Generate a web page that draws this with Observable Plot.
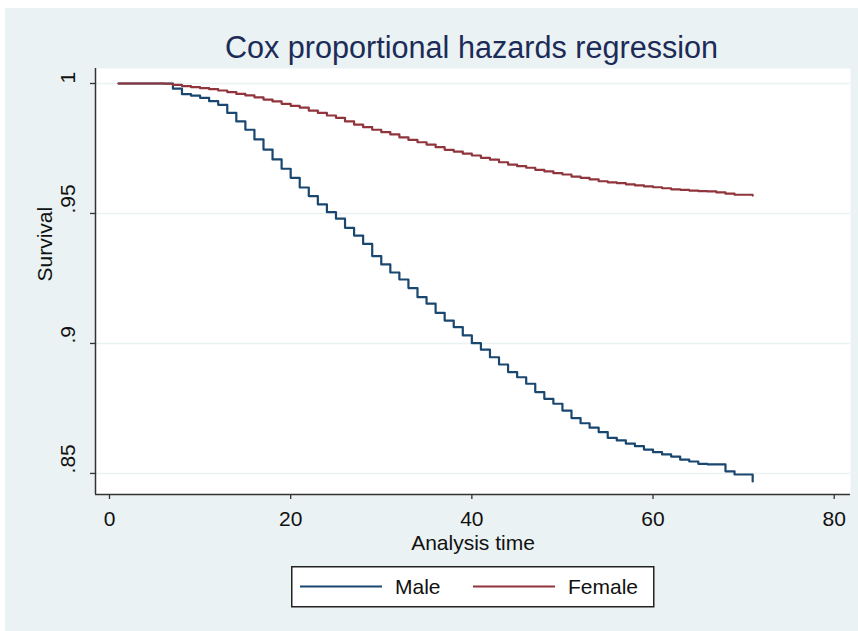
<!DOCTYPE html>
<html>
<head>
<meta charset="utf-8">
<script src="https://cdn.jsdelivr.net/npm/d3@7"></script>
<script src="https://cdn.jsdelivr.net/npm/@observablehq/plot@0.6"></script>
<style>
  html, body { margin: 0; padding: 0; background: #ffffff; }
  body { width: 858px; height: 631px; position: relative; overflow: hidden;
         font-family: "Liberation Sans", Arial, Helvetica, sans-serif; }
  #panel { position: absolute; left: 5px; top: 8px; width: 853px; height: 623px; background: #eaf2f3; }
  #title { position: absolute; top: 24px; left: 466.5px; transform: translateX(-50%);
           white-space: nowrap; font-size: 30.6px; line-height: 30.6px; color: #1c2b58; }
  #chart { position: absolute; left: 0; top: 52px; }
  #legend { position: absolute; left: 286px; top: 558px; }
</style>
</head>
<body>
<div id="panel">
  <div id="title">Cox proportional hazards regression</div>
  <div id="chart"></div>
  <div id="legend"></div>
</div>
<script>
// ---- data ----
const seriesNames = ["Male", "Female"];
const seriesColors = ["#1a476f", "#90353b"];

const maleTime = [1, 7, 8, 9, 10, 11, 12, 13, 14, 15, 16, 17, 18, 19, 20, 21, 22, 23, 24, 25,
  26, 27, 28, 29, 30, 31, 32, 33, 34, 35, 36, 37, 38, 39, 40, 41, 42, 43, 44, 45,
  46, 47, 48, 49, 50, 51, 52, 53, 54, 55, 56, 57, 58, 59, 60, 61, 62, 63, 64, 65,
  66, 68, 69, 71];
const maleSurv = [1.0000, 0.9980, 0.9959, 0.9953, 0.9945, 0.9932, 0.9918, 0.9887, 0.9854, 0.9822,
  0.9785, 0.9746, 0.9708, 0.9672, 0.9637, 0.9600, 0.9567, 0.9535, 0.9505, 0.9480,
  0.9445, 0.9415, 0.9383, 0.9336, 0.9304, 0.9273, 0.9246, 0.9213, 0.9178, 0.9153,
  0.9118, 0.9088, 0.9063, 0.9031, 0.9001, 0.8976, 0.8947, 0.8919, 0.8890, 0.8870,
  0.8845, 0.8813, 0.8787, 0.8768, 0.8742, 0.8713, 0.8693, 0.8676, 0.8659, 0.8637,
  0.8627, 0.8615, 0.8605, 0.8592, 0.8582, 0.8573, 0.8565, 0.8553, 0.8546, 0.8537,
  0.8535, 0.8508, 0.8496, 0.8469];

const femaleTime = [1, 6, 7, 8, 9, 10, 11, 12, 13, 14, 15, 16, 17, 18, 19, 20, 21, 22, 23, 24,
  25, 26, 27, 28, 29, 30, 31, 32, 33, 34, 35, 36, 37, 38, 39, 40, 41, 42, 43, 44,
  45, 46, 47, 48, 49, 50, 51, 52, 53, 54, 55, 56, 57, 58, 59, 60, 61, 62, 63, 64,
  65, 66, 67, 68, 69, 71];
const femaleSurv = [1.0000, 0.9999, 0.9995, 0.9990, 0.9986, 0.9982, 0.9978, 0.9973, 0.9967, 0.9960,
  0.9954, 0.9947, 0.9938, 0.9931, 0.9922, 0.9914, 0.9907, 0.9896, 0.9887, 0.9877,
  0.9868, 0.9854, 0.9842, 0.9832, 0.9822, 0.9813, 0.9804, 0.9793, 0.9783, 0.9774,
  0.9765, 0.9755, 0.9745, 0.9738, 0.9730, 0.9723, 0.9714, 0.9707, 0.9697, 0.9688,
  0.9682, 0.9676, 0.9668, 0.9662, 0.9655, 0.9650, 0.9642, 0.9637, 0.9631, 0.9624,
  0.9620, 0.9617, 0.9612, 0.9608, 0.9604, 0.9601, 0.9597, 0.9593, 0.9591, 0.9588,
  0.9586, 0.9585, 0.9581, 0.9576, 0.9572, 0.9569];

const xTicks = [0, 20, 40, 60, 80];
const yTicks = [0.85, 0.9, 0.95, 1];
const yTickLabels = [".85", ".9", ".95", "1"];
const xDomain = [-1.545, 81.8];
const yDomain = [0.8419, 1.00577];
const xTitle = "Analysis time";
const yTitle = "Survival";

// ---- build tables ----
const male = maleTime.map((t, i) => ({t, s: maleSurv[i]}));
const female = femaleTime.map((t, i) => ({t, s: femaleSurv[i]}));
const yLab = yTicks.map((v, i) => ({v, label: yTickLabels[i]}));

const font = "'Liberation Sans', Arial, Helvetica, sans-serif";

const chart = Plot.plot({
  width: 853,
  height: 500,
  marginLeft: 90,
  marginRight: 8,
  marginTop: 8,
  marginBottom: 66,
  x: {domain: xDomain},
  y: {domain: yDomain},
  style: {background: "transparent", fontFamily: font, fontSize: "21px", color: "#111"},
  marks: [
    Plot.frame({fill: "white", stroke: "none"}),
    Plot.gridY(yTicks, {stroke: "#eaf2f3", strokeOpacity: 1, strokeWidth: 1.6}),
    Plot.line(male, {x: "t", y: "s", curve: "step-after", stroke: seriesColors[0], strokeWidth: 2.2}),
    Plot.line(female, {x: "t", y: "s", curve: "step-after", stroke: seriesColors[1], strokeWidth: 2.2}),
    Plot.ruleX([xDomain[0]], {stroke: "#333", strokeWidth: 1.5}),
    Plot.ruleY([yDomain[0]], {stroke: "#333", strokeWidth: 1.5}),
    Plot.axisX({ticks: xTicks, tickSize: 5, tickPadding: 12, label: null, stroke: "#333", strokeWidth: 1.3, fill: "#111"}),
    Plot.axisY({ticks: yTicks, tickSize: 5, tickFormat: () => "", label: null, stroke: "#333", strokeWidth: 1.3}),
    Plot.text(yLab, {y: "v", text: "label", frameAnchor: "left", rotate: -90, dx: -27, fill: "#111"}),
    Plot.text([xTitle], {frameAnchor: "bottom", lineAnchor: "bottom", dy: 55, fill: "#111"}),
    Plot.text([yTitle], {frameAnchor: "left", rotate: -90, dx: -50, fill: "#111"})
  ]
});
document.getElementById("chart").appendChild(chart);

// ---- legend ----
const lg = d3.select("#legend").append("svg")
  .attr("width", 364).attr("height", 42)
  .style("font-family", font).style("font-size", "21px");
lg.append("rect").attr("x", 0.75).attr("y", 0.75).attr("width", 362).attr("height", 40)
  .attr("fill", "white").attr("stroke", "#222").attr("stroke-width", 1.5);
const itemX = [[9, 91, 104], [182, 264, 277]];
seriesNames.forEach((name, i) => {
  lg.append("line").attr("x1", itemX[i][0]).attr("x2", itemX[i][1]).attr("y1", 20.5).attr("y2", 20.5)
    .attr("stroke", seriesColors[i]).attr("stroke-width", 2.2);
  lg.append("text").attr("x", itemX[i][2]).attr("y", 28).attr("fill", "#111").text(name);
});
</script>
</body>
</html>
